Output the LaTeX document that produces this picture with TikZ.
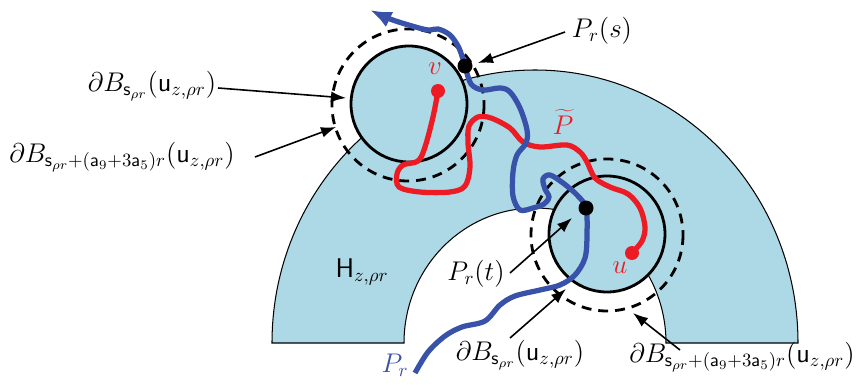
\documentclass[tikz,border=0pt]{standalone}
\usetikzlibrary{arrows.meta}
\definecolor{annblue}{RGB}{173,216,230}
\definecolor{pblue}{RGB}{55,82,168}
\definecolor{pred}{RGB}{237,28,36}
\begin{document}
\begin{tikzpicture}[x=0.533pt,y=-0.533pt,
  lbl/.style={font=\Large, inner sep=1pt},
  ptr/.style={line width=0.85pt,-{Latex[length=8pt,width=5.8pt]}},
  ball/.style={line width=1.5pt,draw=black,fill=annblue},
  dball/.style={line width=1.5pt,draw=black,dash pattern=on 5.3pt off 3.7pt},
  pathb/.style={line width=2.8pt,draw=pblue},
  pathr/.style={line width=2.8pt,draw=pred,line cap=round}]
\useasboundingbox (0,0) rectangle (865,385);
% half annulus
\draw[line width=0.55pt,fill=annblue] (272,343) arc[start angle=180,end angle=360,x radius=263,y radius=273]
  -- (666,343) arc[start angle=360,end angle=180,x radius=131,y radius=135] -- cycle;
% balls
\draw[dball] (408,105) circle[radius=76];
\draw[dball] (607,235) circle[radius=76];
\draw[ball] (409,104) circle[radius=58];
\draw[ball] (607,234) circle[radius=58];
% red path
\draw[pathr] plot[smooth,tension=0.55] coordinates{(438,91) (433,117) (425,147) (418,161) (403,165) (397,174) (399,187) (420,192) (450,192) (465,186) (470,167) (468,143) (469,126) (478,117) (491,118) (510,128) (523,142) (540,147) (567,145) (580,152) (587,162) (595,178) (610,187) (628,194) (640,208) (645,227) (642,241) (632,253)};
% blue path
\draw[pathb,-{Latex[length=11.5pt,width=9pt]}] plot[smooth,tension=0.55] coordinates{(415,373) (428,352) (445,336) (462,327) (485,321) (500,305) (515,296) (540,290) (560,285) (575,275) (585,258) (587,235) (586,208) (577,195) (563,183) (550,175) (543,179) (545,189) (549,197) (544,204) (533,208) (520,210) (513,196) (513,172) (517,155) (526,143) (527,130) (520,108) (510,92) (500,88) (483,90) (471,84) (465,66) (459,48) (450,35) (438,29) (428,30) (412,26) (390,19) (370,10)};
% dots
\fill[pred] (438,91) circle[radius=7];
\fill[pred] (632,253) circle[radius=7];
\fill[black] (465,66) circle[radius=7.5];
\fill[black] (586,208) circle[radius=7.5];
% labels
\node[lbl,text=pred] (v) at (435,69) {$v$};
\node[lbl,text=pred] (u) at (620,268) {$u$};
\node[lbl,text=pred] (pt) at (563,122) {$\widetilde{P}$};
\node[lbl,text=pblue] (pr) at (395,365) {$P_r$};
\node[lbl] (H) at (362,272) {$\mathsf{H}_{z,\rho r}$};
\node[lbl] (ps) at (602,31) {$P_r(s)$};
\node[lbl] (ptt) at (476,274) {$P_r(t)$};
\node[lbl] (b1) at (152,86) {$\partial B_{\mathsf{s}_{\rho r}}(\mathsf{u}_{z,\rho r})$};
\node[lbl] (b2) at (122,157) {$\partial B_{\mathsf{s}_{\rho r}+(\mathsf{a}_9+3\mathsf{a}_5)r}(\mathsf{u}_{z,\rho r})$};
\node[lbl] (b3) at (520,355) {$\partial B_{\mathsf{s}_{\rho r}}(\mathsf{u}_{z,\rho r})$};
\node[lbl] (b4) at (742,357) {$\partial B_{\mathsf{s}_{\rho r}+(\mathsf{a}_9+3\mathsf{a}_5)r}(\mathsf{u}_{z,\rho r})$};
% pointer targets
\coordinate (tb1) at (346,98);
\coordinate (tb2) at (336,127);
\coordinate (tps) at (478,63);
\coordinate (tpt) at (572,218);
\coordinate (tb3) at (566,289);
\coordinate (tb4) at (633,313);
\coordinate (sb1) at (218,88);
\coordinate (sb2) at (255,157);
\coordinate (sps) at (565,32);
\coordinate (spt) at (510,273);
\coordinate (sb3) at (510,338);
\coordinate (sb4) at (680,350);
\draw[ptr] (sb1) -- (tb1);
\draw[ptr] (sb2) -- (tb2);
\draw[ptr] (sps) -- (tps);
\draw[ptr] (spt) -- (tpt);
\draw[ptr] (sb3) -- (tb3);
\draw[ptr] (sb4) -- (tb4);
\end{tikzpicture}
\end{document}
